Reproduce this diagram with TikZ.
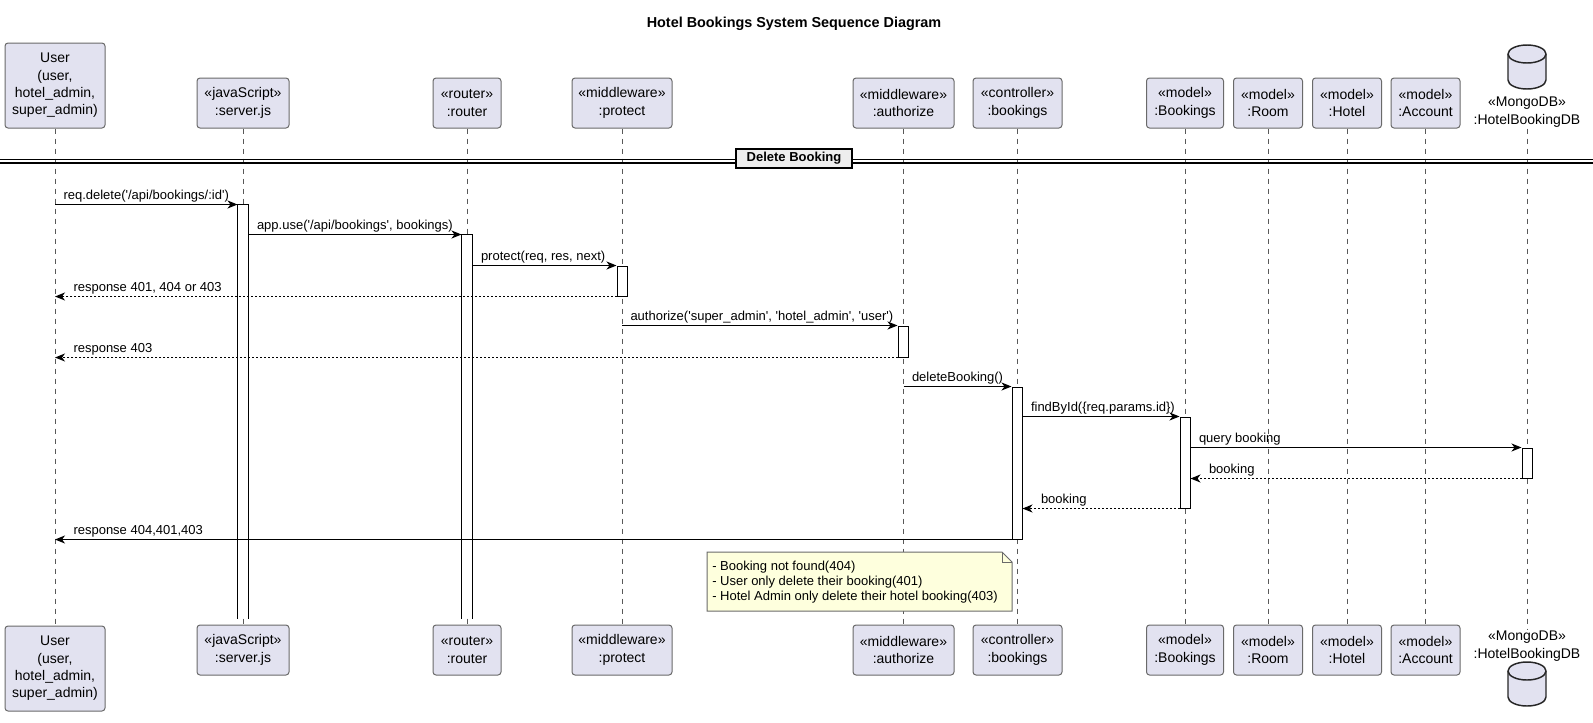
\documentclass[tikz,border=0pt]{standalone}
\usepackage{fontspec}
\setmainfont{Liberation Sans}[Ligatures=TeXOff]
\usetikzlibrary{arrows.meta}

\definecolor{partfill}{HTML}{E2E2F0}
\definecolor{partline}{HTML}{6A6A6A}
\definecolor{notefill}{HTML}{FEFFDD}
\definecolor{sepfill}{HTML}{EEEEEE}
\newcommand{\partfont}{\fontsize{10.5pt}{13pt}\selectfont}
\newcommand{\msgfont}{\fontsize{9.75pt}{11.25pt}\selectfont}

\tikzset{
  part/.style={draw=partline, fill=partfill, line width=0.75pt, rounded corners=2.25pt,
    align=center, font=\partfont, inner sep=0pt, minimum height=37.5pt},
  pw/.style={minimum width=#1*0.75pt},
  lifeline/.style={draw=black!65, line width=0.6pt, dash pattern=on 3.75pt off 3.75pt},
  actbar/.style={draw=black, fill=white, line width=0.75pt, minimum width=7.5pt, inner sep=0pt},
  barh/.style={minimum height=#1*0.75pt},
  msg/.style={line width=0.75pt, -{Stealth[length=7.5pt,width=6pt,inset=2.25pt]}},
  ret/.style={msg, dash pattern=on 1.5pt off 1.5pt},
  rlbl/.style={font=\msgfont, inner sep=0pt, anchor=base west, xshift=6pt, yshift=3.75pt},
  llbl/.style={font=\msgfont, inner sep=0pt, anchor=base west, xshift=13.5pt, yshift=3.75pt},
  dbcyl/.style={draw=black!85, fill=partfill, line width=1.1pt},
}

\begin{document}
\begin{tikzpicture}[x=0.75pt,y=-0.75pt]
\useasboundingbox (0,0) rectangle (1593,722);
\node[font=\bfseries\fontsize{10.8pt}{13pt}\selectfont] (title) at (794,24) {Hotel Bookings System Sequence Diagram};

% participants, top and bottom row
\foreach \pos/\yy in {t/103,b/650}{
  \foreach \n/\xx/\ww/\txt in {srv/243/92/{«javaScript»\\:server.js},
      rtr/467/68/{«router»\\:router}, prt/622/100/{«middleware»\\:protect},
      aut/903.5/101/{«middleware»\\:authorize}, ctl/1017.5/89/{«controller»\\:bookings},
      bkg/1185/77/{«model»\\:Bookings}, room/1268/69/{«model»\\:Room},
      htl/1347/69/{«model»\\:Hotel}, acc/1425.5/69/{«model»\\:Account}}
    \node[part, pw=\ww] (\n-\pos) at (\xx,\yy) {\txt};
}
\node[part, pw=100, minimum height=63.75pt] (usr-t) at (55,85.5) {User\\(user,\\hotel\_admin,\\super\_admin)};
\node[part, pw=100, minimum height=63.75pt] (usr-b) at (55,668.5) {User\\(user,\\hotel\_admin,\\super\_admin)};
% database
\node[font=\partfont, align=center, inner sep=1pt] (db-t) at (1527,112) {«MongoDB»\\:HotelBookingDB};
\node[font=\partfont, align=center, inner sep=1pt] (db-b) at (1527,646) {«MongoDB»\\:HotelBookingDB};
\foreach \tp in {45,662}{
  \draw[dbcyl] (1508,\tp+9) -- (1508,\tp+35) arc[start angle=180,end angle=360,x radius=14.25pt,y radius=6.75pt]
    -- (1546,\tp+9) arc[start angle=0,end angle=180,x radius=14.25pt,y radius=6.75pt] -- cycle;
  \draw[dbcyl, fill=none] (1508,\tp+9) arc[start angle=180,end angle=360,x radius=14.25pt,y radius=6.75pt];
}

% lifelines
\foreach \n in {usr,srv,rtr,prt,aut,ctl,bkg,room,htl,acc,db}
  \draw[lifeline] (\n-t) -- (\n-b);

% divider
\draw[line width=0.8pt] (0,159.5) -- (1593,159.5) (0,163) -- (1593,163);
\node[draw, fill=sepfill, line width=1.5pt, font=\bfseries\msgfont, minimum width=87pt,
  minimum height=14.25pt, inner sep=0pt] (sep) at (794,158) {Delete Booking};

% activations
\node[actbar, draw=none, barh=413] (srv-a) at (243,411.5) {};
\node[actbar, draw=none, barh=383] (rtr-a) at (467,426.5) {};
\draw[line width=0.75pt] (srv-a.south west) -- (srv-a.north west) -- (srv-a.north east) -- (srv-a.south east);
\draw[line width=0.75pt] (rtr-a.south west) -- (rtr-a.north west) -- (rtr-a.north east) -- (rtr-a.south east);
\node[actbar, barh=30] (prt-a) at (622,281) {};
\node[actbar, barh=31] (aut-a) at (903,341.5) {};
\node[actbar, barh=152] (ctl-a) at (1017,463) {};
\node[actbar, barh=91] (bkg-a) at (1185,462.5) {};
\node[actbar, barh=30] (db-a) at (1527,463) {};

% messages
\draw[msg] (usr-t |- srv-a.north) -- node[rlbl, pos=0] {req.delete('/api/bookings/:id')} (srv-a.north west);
\draw[msg] (srv-a.east |- rtr-a.north) -- node[rlbl, pos=0] {app.use('/api/bookings', bookings)} (rtr-a.north west);
\draw[msg] (rtr-a.east |- prt-a.north) -- node[rlbl, pos=0] {protect(req, res, next)} (prt-a.north west);
\draw[ret] (prt-a.south west) -- node[llbl, pos=1] {response 401, 404 or 403} (usr-t |- prt-a.south);
\draw[msg] (prt-t |- aut-a.north) -- node[rlbl, pos=0] {authorize('super\_admin', 'hotel\_admin', 'user')} (aut-a.north west);
\draw[ret] (aut-a.south west) -- node[llbl, pos=1] {response 403} (usr-t |- aut-a.south);
\draw[msg] (aut-t |- ctl-a.north) -- node[rlbl, pos=0] {deleteBooking()} (ctl-a.north west);
\draw[msg] (ctl-a.east |- bkg-a.north) -- node[rlbl, pos=0] {findById(\{req.params.id\})} (bkg-a.north west);
\draw[msg] (bkg-a.east |- db-a.north) -- node[rlbl, pos=0] {query booking} (db-a.north west);
\draw[ret] (db-a.south west) -- node[llbl, pos=1] {booking} (bkg-a.east |- db-a.south);
\draw[ret] (bkg-a.south west) -- node[llbl, pos=1] {booking} (ctl-a.east |- bkg-a.south);
\draw[msg] (ctl-a.south west) -- node[llbl, pos=1] {response 404,401,403} (usr-t |- ctl-a.south);

% note
\draw[draw=partline, fill=notefill, line width=0.75pt] (707,552) -- (1002,552) -- (1012,562) -- (1012,611) -- (707,611) -- cycle;
\draw[draw=partline, line width=0.75pt] (1002,552) -- (1002,562) -- (1012,562);
\node[font=\msgfont, align=left, anchor=north west, inner sep=0pt] (note) at (712,561)
  {- Booking not found(404)\\- User only delete their booking(401)\\- Hotel Admin only delete their hotel booking(403)};
\end{tikzpicture}
\end{document}
